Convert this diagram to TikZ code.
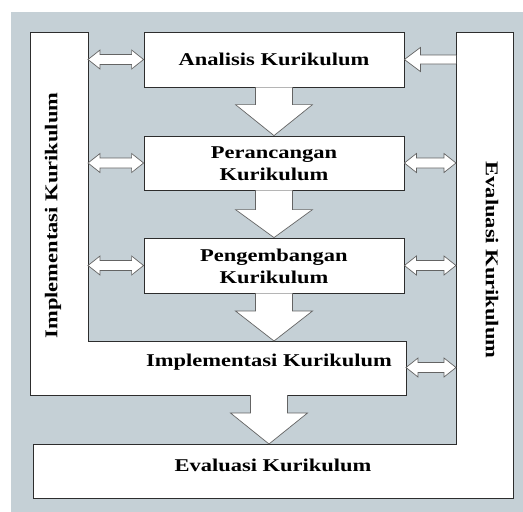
\documentclass[tikz,border=0pt]{standalone}
\usepackage{fontspec}
\setmainfont[FakeStretch=1.25]{Liberation Serif}
\usetikzlibrary{calc}
\definecolor{panel}{RGB}{197,208,214}
\definecolor{edge}{RGB}{45,45,45}
\definecolor{arredge}{RGB}{100,100,100}
\newcommand\hdblarrow[2]{%
  \draw[blockarr] let \p1=#1, \p2=#2 in
    (\x1,\y1) -- (\x1+12pt,\y1+9.5pt) -- (\x1+12pt,\y1+5pt) -- (\x2-12pt,\y1+5pt)
    -- (\x2-12pt,\y1+9.5pt) -- (\x2,\y1) -- (\x2-12pt,\y1-9.5pt) -- (\x2-12pt,\y1-5pt)
    -- (\x1+12pt,\y1-5pt) -- (\x1+12pt,\y1-9.5pt) -- cycle;}
\newcommand\vdownarrow[3]{%
  \draw[blockarr] let \p1=#1, \p2=#2 in
    (\x1-18.5pt,\y1) -- (\x1-18.5pt,\y2+#3) -- (\x1-38.5pt,\y2+#3) -- (\x1,\y2)
    -- (\x1+38.5pt,\y2+#3) -- (\x1+18.5pt,\y2+#3) -- (\x1+18.5pt,\y1);}
\begin{document}
\begin{tikzpicture}[x=1pt,y=-1pt,
  box/.style={draw=edge,line width=0.8pt,fill=white,minimum width=260pt,inner sep=0pt},
  lshape/.style={draw=edge,line width=0.8pt,fill=white},
  blockarr/.style={draw=arredge,line width=0.7pt,fill=white,line join=miter},
  lbl/.style={font=\bfseries\fontsize{18}{22}\selectfont,align=center,text=black}]
\useasboundingbox (0,0) rectangle (523,512);
\fill[panel] (11,12) rectangle (523,512);
% L-shapes
\draw[lshape] (456,32) -- (513,32) -- (513,498) -- (33,498) -- (33,444) -- (456,444) -- cycle;
\draw[lshape] (30,32) -- (88,32) -- (88,341) -- (406,341) -- (406,395) -- (30,395) -- cycle;
% boxes
\node[box,minimum height=55pt] (analisis) at (274,59.5) {};
\node[box,minimum height=54pt] (perancangan) at (274,163) {};
\node[box,minimum height=55pt] (pengembangan) at (274,265.5) {};
\node[lbl] (tAnalisis) at (274,59.5) {Analisis Kurikulum};
\node[lbl] (tPerancangan) at (274,164) {Perancangan\\Kurikulum};
\node[lbl] (tPengembangan) at (274,266) {Pengembangan\\Kurikulum};
\node[lbl] (tImpl) at (269,362) {Implementasi Kurikulum};
\node[lbl] (tEval) at (273,465) {Evaluasi Kurikulum};
\node[lbl,rotate=90] (tImplV) at (53,215.5) {Implementasi Kurikulum};
\node[lbl,rotate=-90] (tEvalV) at (492,260) {Evaluasi Kurikulum};
% anchor coordinates
\coordinate (leftcol) at (88,0);
\coordinate (rightcol) at (456,0);
\coordinate (implE) at (406,367.5);
\coordinate (implS) at (269,395);
\coordinate (evalN) at (269,444);
% down block arrows
\vdownarrow{(analisis.south)}{(perancangan.north)}{31pt}
\vdownarrow{(perancangan.south)}{(pengembangan.north)}{28pt}
\vdownarrow{(pengembangan.south)}{(274,341)}{30pt}
\vdownarrow{(implS)}{(evalN)}{31pt}
% left double arrows
\hdblarrow{(leftcol |- analisis.west)}{(analisis.west)}
\hdblarrow{(leftcol |- perancangan.west)}{(perancangan.west)}
\hdblarrow{(leftcol |- pengembangan.west)}{(pengembangan.west)}
% right double arrows
\hdblarrow{(perancangan.east)}{(rightcol |- perancangan.east)}
\hdblarrow{(pengembangan.east)}{(rightcol |- pengembangan.east)}
\hdblarrow{(implE)}{(rightcol |- implE)}
% single arrow from Evaluasi column to Analisis
\draw[blockarr] let \p1=(analisis.east), \p2=(rightcol |- analisis.east) in
  (\x2,\y1+4.5pt) -- (\x1+16pt,\y1+4.5pt) -- (\x1+16pt,\y1+12pt) -- (\x1,\y1)
  -- (\x1+16pt,\y1-12pt) -- (\x1+16pt,\y1-4.5pt) -- (\x2,\y1-4.5pt);
\end{tikzpicture}
\end{document}
